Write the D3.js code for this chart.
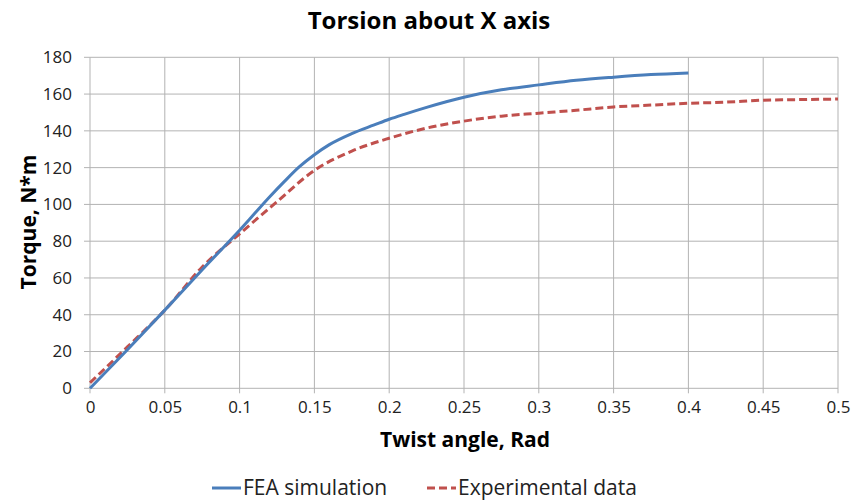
<html>
<head>
<script src="https://d3js.org/d3.v7.min.js"></script>
<style>
body { margin: 0; background: #fff; font-family: 'Open Sans', sans-serif; }
</style>
</head>
<body>
<div id="chart"></div>
<script>

// FEA simulation curve
var fea_x = [0, 0.025, 0.05, 0.075, 0.1, 0.11, 0.12, 0.13, 0.14, 0.15, 0.16, 0.175, 0.19, 0.2, 0.21, 0.225, 0.25, 0.275, 0.3, 0.325, 0.35, 0.375, 0.4];
var fea_y = [0, 21, 42.5, 64.5, 86, 95, 104, 112.5, 120.5, 127, 132.5, 138.5, 143.2, 146.3, 149, 152.8, 158.3, 162.3, 165, 167.5, 169.2, 170.6, 171.5];

// experimental data
var exp_x = [0, 0.025, 0.05, 0.075, 0.1, 0.125, 0.15, 0.175, 0.2, 0.225, 0.25, 0.275, 0.3, 0.325, 0.35, 0.375, 0.4, 0.425, 0.45, 0.475, 0.5];
var exp_y = [3, 22.5, 42.5, 66, 84, 101.5, 118.5, 129, 136, 141.5, 145.3, 148, 149.6, 151.2, 153, 154, 155, 155.6, 156.7, 157, 157.3];

var x_ticks = [0, 0.05, 0.1, 0.15, 0.2, 0.25, 0.3, 0.35, 0.4, 0.45, 0.5];
var y_ticks = [0, 20, 40, 60, 80, 100, 120, 140, 160, 180];

var series_names = ["FEA simulation", "Experimental data"];
var series_colors = ["#4a7ebb", "#c0504d"];

var W = 860, H = 501;
var pLeft = 90, pRight = 838, pTop = 57.3, pBottom = 388.3;

var svg = d3.select("#chart").append("svg").attr("width", W).attr("height", H);

var x = d3.scaleLinear().domain([0, 0.5]).range([pLeft, pRight]);
var y = d3.scaleLinear().domain([0, 180]).range([pBottom, pTop]);

var gridColor = "#b3b3b3";

// grid lines
svg.append("g").selectAll("line").data(x_ticks).enter().append("line")
  .attr("x1", function(d){ return x(d); }).attr("x2", function(d){ return x(d); })
  .attr("y1", pTop).attr("y2", pBottom + 5)
  .style("stroke", gridColor).style("stroke-width", 1);

svg.append("g").selectAll("line").data(y_ticks).enter().append("line")
  .attr("x1", pLeft - 6).attr("x2", pRight)
  .attr("y1", function(d){ return y(d); }).attr("y2", function(d){ return y(d); })
  .style("stroke", gridColor).style("stroke-width", 1);

// axes (labels only, the lines are the grid above)
var xAxis = svg.append("g").attr("transform", "translate(0," + pBottom + ")")
  .call(d3.axisBottom(x).tickValues(x_ticks).tickSize(0).tickPadding(13)
    .tickFormat(function(d){ return d3.format("")(d); }));
xAxis.select(".domain").remove();
xAxis.selectAll("text").style("font-size", "17px").style("fill", "#222").style("font-family", "'Open Sans', sans-serif");

var yAxis = svg.append("g").attr("transform", "translate(" + pLeft + ",0)")
  .call(d3.axisLeft(y).tickValues(y_ticks).tickSize(0).tickPadding(18));
yAxis.select(".domain").remove();
yAxis.selectAll("text").style("font-size", "17px").style("fill", "#222").style("font-family", "'Open Sans', sans-serif");

// lines
var line = d3.line().curve(d3.curveMonotoneX)
  .x(function(d){ return x(d[0]); }).y(function(d){ return y(d[1]); });

var fea = d3.zip(fea_x, fea_y);
var exp = d3.zip(exp_x, exp_y);

svg.append("path").datum(exp).attr("d", line)
  .style("fill", "none").style("stroke", series_colors[1]).style("stroke-width", 3)
  .style("stroke-dasharray", "8,4");

svg.append("path").datum(fea).attr("d", line)
  .style("fill", "none").style("stroke", series_colors[0]).style("stroke-width", 3);

// titles
svg.append("text").attr("x", 429).attr("y", 29).attr("text-anchor", "middle")
  .style("font-size", "24px").style("font-weight", "bold").text("Torsion about X axis");

svg.append("text").attr("x", 465).attr("y", 447).attr("text-anchor", "middle")
  .style("font-size", "21px").style("font-weight", "bold").text("Twist angle, Rad");

svg.append("text").attr("transform", "translate(36,222) rotate(-90)").attr("text-anchor", "middle")
  .style("font-size", "21px").style("font-weight", "bold").text("Torque, N*m");

// legend
var legend = [
  {name: series_names[0], color: series_colors[0], dash: null, x: 212},
  {name: series_names[1], color: series_colors[1], dash: "8,4", x: 427}
];
legend.forEach(function(l){
  svg.append("line").attr("x1", l.x).attr("x2", l.x + 29).attr("y1", 488).attr("y2", 488)
    .style("stroke", l.color).style("stroke-width", 3).style("stroke-dasharray", l.dash);
  svg.append("text").attr("x", l.x + 31).attr("y", 495)
    .style("font-size", "21px").style("fill", "#222").text(l.name);
});

</script>
</body>
</html>
